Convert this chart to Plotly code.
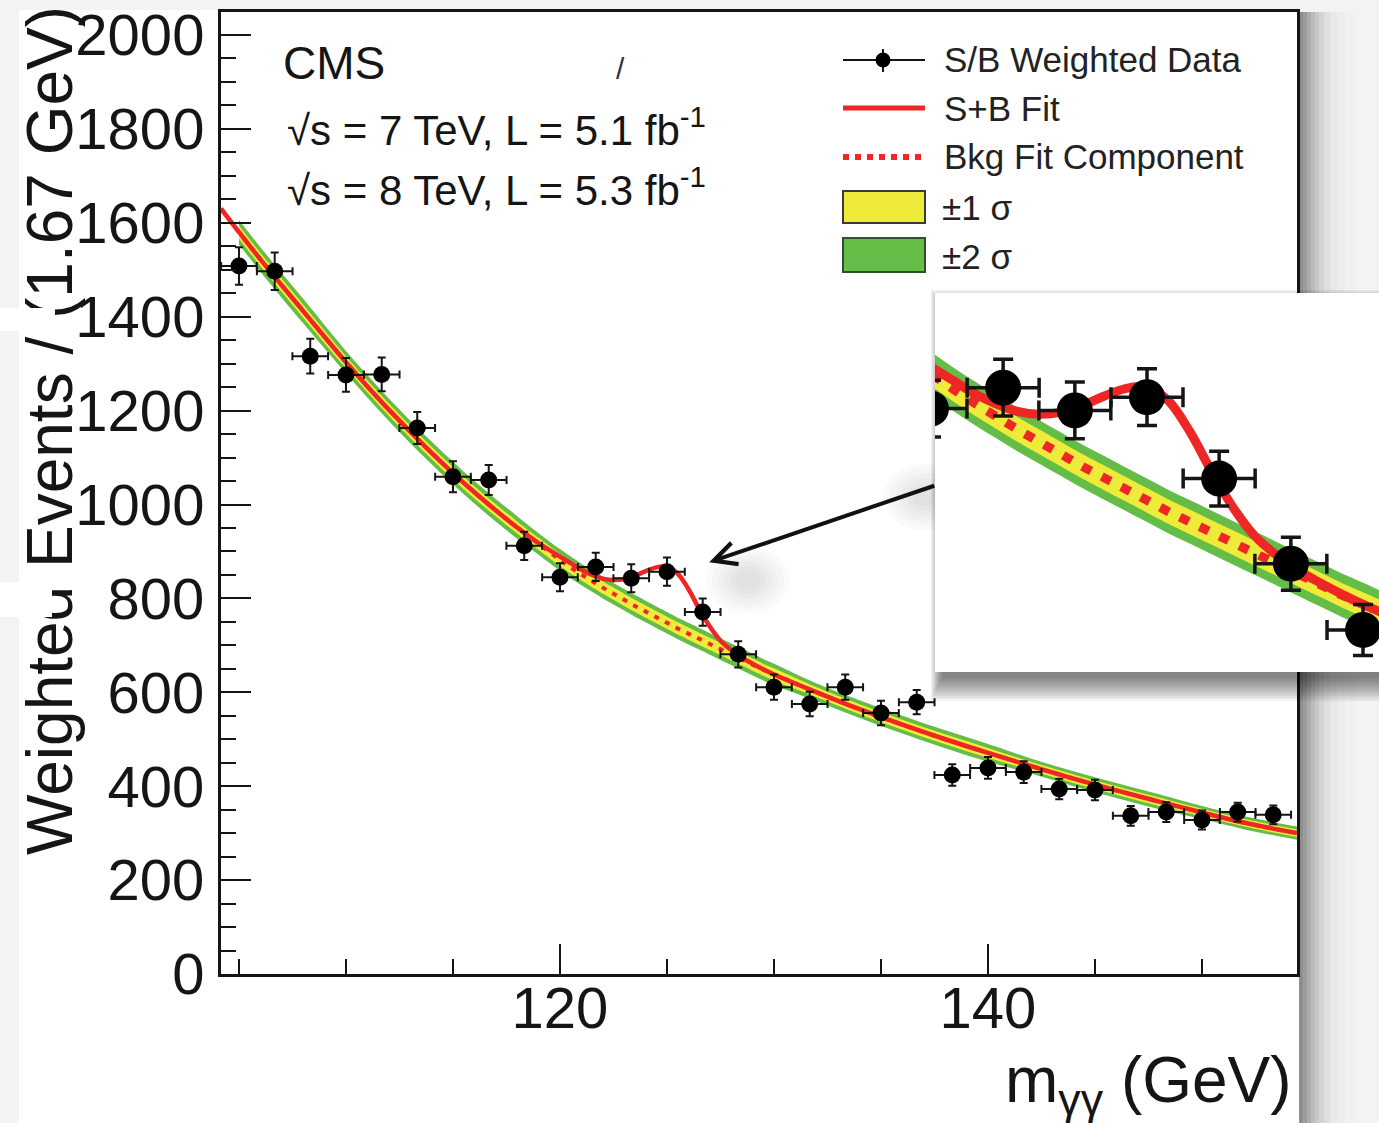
import plotly.graph_objects as go

# ---------------- data ----------------
mass = [105.0, 106.67, 108.33, 110.0, 111.67, 113.33, 115.0, 116.67, 118.33, 120.0,
        121.67, 123.33, 125.0, 126.67, 128.33, 130.0, 131.67, 133.33, 135.0, 136.67,
        138.33, 140.0, 141.67, 143.33, 145.0, 146.67, 148.33, 150.0, 151.67, 153.33]
weighted_events = [1508, 1497, 1316, 1276, 1277, 1163, 1059, 1052, 912, 845,
                   867, 843, 857, 771, 681, 611, 575, 611, 556, 579,
                   424, 439, 430, 394, 392, 337, 345, 328, 345, 339]
event_err = [40, 40, 37, 36, 36, 34, 33, 32, 30, 30,
             30, 30, 30, 29, 28, 27, 26, 27, 26, 26,
             23, 23, 23, 22, 22, 21, 21, 20, 20, 20]
bin_half_width = 0.833

fit_mass = [104.16, 105, 106, 108, 110, 112, 114, 116, 118, 119, 120,
            120.5, 121, 121.5, 122, 122.5, 123, 123.5, 124, 124.5, 125,
            125.5, 126, 126.5, 127, 127.5, 128, 128.5, 129, 129.5, 130,
            132, 134, 136, 138, 140, 142, 144, 146, 148, 150, 152, 154.44]
bkg_fit = [1630, 1580, 1522, 1412, 1303, 1202, 1110, 1026, 951, 916, 882,
           866, 851, 837, 823, 810, 797, 784, 772, 760, 748,
           736, 725, 714, 703, 692, 681, 670, 659, 648, 638,
           600, 564, 531, 500, 471, 443, 416, 391, 367, 344, 322, 300]
sb_fit = [1630, 1580, 1522, 1412, 1303, 1202, 1110, 1026, 951, 918, 889,
          875, 861, 850, 842, 839, 841, 848, 858, 866, 868,
          853, 820, 778, 740, 710, 690, 674, 661, 649, 638,
          600, 564, 531, 500, 471, 443, 416, 391, 367, 344, 322, 300]
sigma1 = [14, 14, 14, 14, 13, 13, 13, 13, 13, 13, 13,
          13, 13, 13, 13, 13, 13, 13, 13, 13, 13,
          13, 13, 13, 13, 13, 13, 13, 13, 13, 13,
          10.5, 10.5, 10.5, 10.5, 10.5, 9, 9, 9, 9, 8, 8, 8]
sigma2 = [26, 26, 26, 26, 24, 24, 24, 24, 24, 23, 23,
          23, 23, 23, 23, 23, 23, 23, 23, 23, 23,
          23, 23, 23, 23, 23, 23, 23, 23, 23, 23,
          19, 19, 19, 19, 19, 16, 16, 16, 16, 14, 14, 14]

x_ticks = [120, 140]
y_ticks = [0, 200, 400, 600, 800, 1000, 1200, 1400, 1600, 1800, 2000]

# ---------------- styling ----------------
FONT = "Liberation Sans, Arial, Helvetica, sans-serif"
RED = "#ee2626"
YELLOW = "#efeb3a"
GREEN = "#63bd46"
INK = "#151515"

W, H = 1379, 1123
ML, MR, MT, MB = 221, 0, 12, 149
PW = W - ML - MR
PH = H - MT - MB


def px(xp):
    return (xp - ML) / PW


def py(yp):
    return (H - MB - yp) / PH


fig = go.Figure()


def add_fit_and_data(xa, ya, big):
    lw = 9 if big else 4.5
    dash = "10px,12px" if big else "5px,7px"
    dw = 9 if big else 4
    msize = 36 if big else 17
    eth = 3.5 if big else 2
    ecap = 10 if big else 4
    bx = fit_mass[1:]
    b = bkg_fit[1:]
    s1 = sigma1[1:]
    s2 = sigma2[1:]
    common = dict(xaxis=xa, yaxis=ya, showlegend=False, hoverinfo="skip")
    fig.add_trace(go.Scatter(x=bx, y=[v - e for v, e in zip(b, s2)], mode="lines",
                             line=dict(width=0, shape="spline", color=GREEN), **common))
    fig.add_trace(go.Scatter(x=bx, y=[v + e for v, e in zip(b, s2)], mode="lines",
                             line=dict(width=0, shape="spline", color=GREEN),
                             fill="tonexty", fillcolor=GREEN, **common))
    fig.add_trace(go.Scatter(x=bx, y=[v - e for v, e in zip(b, s1)], mode="lines",
                             line=dict(width=0, shape="spline", color=YELLOW), **common))
    fig.add_trace(go.Scatter(x=bx, y=[v + e for v, e in zip(b, s1)], mode="lines",
                             line=dict(width=0, shape="spline", color=YELLOW),
                             fill="tonexty", fillcolor=YELLOW, **common))
    fig.add_trace(go.Scatter(x=fit_mass, y=bkg_fit, mode="lines",
                             line=dict(width=dw, color=RED, dash=dash, shape="spline"),
                             **common))
    fig.add_trace(go.Scatter(x=fit_mass, y=sb_fit, mode="lines",
                             line=dict(width=lw, color=RED, shape="spline"), **common))
    fig.add_trace(go.Scatter(
        x=mass, y=weighted_events, mode="markers",
        marker=dict(size=msize, color="black"),
        error_y=dict(type="data", array=event_err, color=INK, thickness=eth, width=ecap),
        error_x=dict(type="constant", value=bin_half_width, color=INK, thickness=eth, width=ecap),
        **common))


# main panel
add_fit_and_data("x", "y", False)
# helper subplot used for the inset card and its shadow (pixel coordinates)
fig.add_trace(go.Scatter(x=[880], y=[720], mode="markers", marker=dict(opacity=0),
                         xaxis="x2", yaxis="y2", showlegend=False, hoverinfo="skip"))
# magnified inset
add_fit_and_data("x3", "y3", True)

axis_common = dict(showgrid=False, zeroline=False, showline=True, mirror=True,
                   linecolor=INK, linewidth=3, ticks="inside", ticklen=30,
                   tickwidth=2, tickcolor=INK,
                   tickfont=dict(family=FONT, size=58, color=INK))

fig.update_layout(
    width=W, height=H,
    margin=dict(l=ML, r=MR, t=MT, b=MB, pad=0),
    paper_bgcolor="#f3f3f3",
    plot_bgcolor="rgba(0,0,0,0)",
    showlegend=False,
    font=dict(family=FONT, color=INK),
    xaxis=dict(domain=[0, px(1297)], range=[104.16, 154.44],
               tickmode="array", tickvals=x_ticks,
               minor=dict(tick0=0, dtick=5, ticks="inside", ticklen=15,
                          tickwidth=2, tickcolor=INK, showgrid=False),
               ticklabelstandoff=-19, **axis_common),
    yaxis=dict(domain=[0, 1], range=[0, 2049],
               tickmode="array", tickvals=y_ticks,
               minor=dict(tick0=0, dtick=50, ticks="inside", ticklen=15,
                          tickwidth=2, tickcolor=INK, showgrid=False),
               ticklabelstandoff=2, **axis_common),
    xaxis2=dict(domain=[px(880), 1], range=[880, 1379], visible=False, anchor="y2"),
    yaxis2=dict(domain=[py(720), py(255)], range=[720, 255], visible=False, anchor="x2"),
    xaxis3=dict(domain=[px(935), 1], range=[120.093, 130.37], visible=False, anchor="y3"),
    yaxis3=dict(domain=[py(672), py(293)], range=[566.6, 967.1], visible=False, anchor="x3"),
)

shapes = []


def prect(x0, y0, x1, y1, color, layer="below"):
    shapes.append(dict(type="rect", xref="paper", yref="paper",
                       x0=px(x0), x1=px(x1), y0=py(y1), y1=py(y0),
                       fillcolor=color, line=dict(width=0), layer=layer))


# white slide behind the chart
prect(19, 10, 1299, 1130, "white")
# soft shadow right of the slide
for x0, x1, c in [(1299, 1303, "#8e8e8e"), (1303, 1307, "#9d9d9d"), (1307, 1311, "#acacac"),
                  (1311, 1315, "#bbbbbb"), (1315, 1319, "#c8c8c8"), (1319, 1324, "#d4d4d4"),
                  (1324, 1330, "#dfdfdf"), (1330, 1337, "#e7e7e7"), (1337, 1345, "#ececec"),
                  (1345, 1356, "#f0f0f0")]:
    prect(x0, 12, x1, 1130, c)

# faint shadow blobs around the arrow
for cx, cy in [(748, 580), (925, 497)]:
    for r in [42, 36, 30, 24, 18, 12]:
        shapes.append(dict(type="circle", xref="paper", yref="paper",
                           x0=px(cx - r), x1=px(cx + r), y0=py(cy + r * 0.8), y1=py(cy - r * 0.8),
                           fillcolor="rgba(0,0,0,0.02)", line=dict(width=0), layer="below"))

# ---- legend (drawn by hand) ----
def pline(x0, y0, x1, y1, color, width, dash="solid"):
    shapes.append(dict(type="line", xref="paper", yref="paper",
                       x0=px(x0), x1=px(x1), y0=py(y0), y1=py(y1),
                       line=dict(color=color, width=width, dash=dash), layer="below"))


pline(843, 60, 925, 60, INK, 2)
pline(883, 49, 883, 72, INK, 2)
shapes.append(dict(type="circle", xref="paper", yref="paper",
                   x0=px(875.5), x1=px(890.5), y0=py(67.5), y1=py(52.5),
                   fillcolor="black", line=dict(width=0), layer="below"))
pline(843, 108, 925, 108, RED, 5)
pline(843, 157, 922, 157, RED, 6, "6px,6px")
prect(843, 191, 925, 223, YELLOW)
shapes[-1]["line"] = dict(color="#3a3a3a", width=2)
prect(843, 238, 925, 272, GREEN)
shapes[-1]["line"] = dict(color="#2f4f2f", width=2)

# ---- inset card and its shadow (x2/y2 are pixel coordinates) ----
for i in range(1, 11):
    shapes.append(dict(type="rect", xref="x2", yref="y2",
                       x0=943 - 1.2 * i, x1=1390, y0=305 - 1.5 * i, y1=676 + 2.5 * i,
                       fillcolor="rgba(0,0,0,0.06)", line=dict(width=0), layer="below"))
shapes.append(dict(type="rect", xref="x2", yref="y2", x0=935, x1=1390, y0=293, y1=672,
                   fillcolor="white", line=dict(width=0), layer="below"))

fig.update_layout(shapes=shapes)

# ---------------- text ----------------
ann = []


def ptext(x, y, text, size, xanchor="left", yanchor="middle", angle=0, color=INK):
    ann.append(dict(xref="paper", yref="paper", x=px(x), y=py(y), text=text,
                    showarrow=False, xanchor=xanchor, yanchor=yanchor, textangle=angle,
                    font=dict(family=FONT, size=size, color=color)))


ptext(281, 63, "CMS", 46)
ptext(285, 127, "√s = 7 TeV, L = 5.1 fb<sup>-1</sup>", 42)
ptext(285, 187, "√s = 8 TeV, L = 5.3 fb<sup>-1</sup>", 42)
ptext(620, 69, "/", 30, xanchor="center", color="#333333")

ptext(942, 59, "S/B Weighted Data", 35, color="#222222")
ptext(942, 108, "S+B Fit", 35, color="#222222")
ptext(942, 156, "Bkg Fit Component", 35, color="#222222")
ptext(940, 207, "±1 σ", 35, color="#222222")
ptext(940, 256, "±2 σ", 35, color="#222222")

ptext(50, 431, "Weighted Events / (1.67 GeV)", 64, xanchor="center", angle=-90)
ptext(1294, 1084, "m<sub>γγ</sub> (GeV)", 64, xanchor="right")

# white patches of the original scan covering parts of the axis title
for x0, y0, x1, y1 in [(0, 308, 55, 331), (0, 582, 52, 617)]:
    ann.append(dict(xref="paper", yref="paper", x=px((x0 + x1) / 2), y=py((y0 + y1) / 2),
                    text=" ", showarrow=False, width=x1 - x0, height=y1 - y0,
                    bgcolor="white", borderpad=0, borderwidth=0,
                    xanchor="center", yanchor="middle"))

# arrow pointing from the inset to the excess
ann.append(dict(xref="x", yref="y", x=126.97, y=877, axref="x", ayref="y",
                ax=137.56, ay=1041, text="", showarrow=True, arrowhead=5,
                arrowsize=1.1, arrowwidth=4, arrowcolor="#111111",
                standoff=0, startstandoff=0))

fig.update_layout(annotations=ann)

fig.write_html("out.html", include_plotlyjs=True,
               config={"displayModeBar": False},
               post_script="document.body.style.margin='0px';")
